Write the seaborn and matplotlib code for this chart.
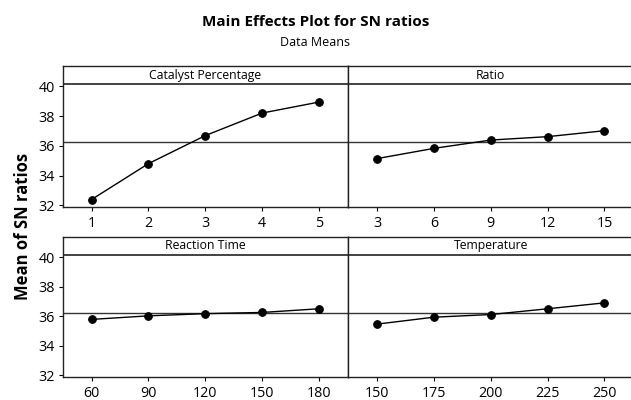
import matplotlib
matplotlib.use("Agg")
import matplotlib.pyplot as plt
import seaborn as sns
import pandas as pd

# ---- data ----
factors = ["Catalyst Percentage", "Ratio", "Reaction Time", "Temperature"]
catalyst_levels = [1, 2, 3, 4, 5]
catalyst_sn = [32.38, 34.80, 36.69, 38.21, 38.95]
ratio_levels = [3, 6, 9, 12, 15]
ratio_sn = [35.14, 35.83, 36.39, 36.62, 37.02]
time_levels = [60, 90, 120, 150, 180]
time_sn = [35.78, 36.02, 36.17, 36.25, 36.50]
temp_levels = [150, 175, 200, 225, 250]
temp_sn = [35.46, 35.93, 36.11, 36.50, 36.90]
grand_mean = 36.24
y_ticks = [32, 34, 36, 38, 40]

levels = [catalyst_levels, ratio_levels, time_levels, temp_levels]
values = [catalyst_sn, ratio_sn, time_sn, temp_sn]

sns.set_style("white")
plt.rcParams["font.family"] = ["Open Sans", "DejaVu Sans"]
plt.rcParams["text.color"] = "black"

W, H = 631, 400
fig = plt.figure(figsize=(W / 100, H / 100), dpi=100)

# axes boxes in pixels: (left, top, right, bottom)
col_x = [(62.5, 348.0), (348.0, 633.5)]
row_y = [(66.0, 206.7), (236.7, 376.7)]

ylo, yhi = 31.9, 41.38
strip_y = 40.14

for i, (name, lv, vals) in enumerate(zip(factors, levels, values)):
    r, c = divmod(i, 2)
    x0, x1 = col_x[c]
    yt, yb = row_y[r]
    ax = fig.add_axes([x0 / W, 1 - yb / H, (x1 - x0) / W, (yb - yt) / H])
    df = pd.DataFrame({"level": [str(v) for v in lv], "sn": vals})
    sns.pointplot(data=df, x="level", y="sn", order=[str(v) for v in lv],
                  color="black", markers="o", markersize=5.5,
                  linewidth=1.0, ax=ax)
    ax.axhline(grand_mean, color="#333333", lw=1.0, zorder=1)
    ax.axhline(strip_y, color="#222222", lw=1.2, zorder=1)
    ax.text(0.5, (strip_y + yhi) / 2, name, transform=ax.get_yaxis_transform(),
            ha="center", va="center", fontsize=8.8, color="black")
    ax.set_xlim(-0.51, 4.51)
    ax.set_ylim(ylo, yhi)
    ax.set_xlabel("")
    ax.set_ylabel("")
    for s in ax.spines.values():
        s.set_color("#222222")
        s.set_linewidth(1.0)
    ax.tick_params(axis="x", direction="out", length=3, width=0.8,
                   labelsize=10.3, pad=4, colors="black", bottom=True)
    ax.set_yticks(y_ticks)
    if c == 0:
        ax.tick_params(axis="y", direction="out", length=3, width=0.8,
                       labelsize=10.3, pad=2.5, colors="black", left=True)
    else:
        ax.tick_params(axis="y", left=False, labelleft=False)

fig.text(0.5, 1 - 22 / H, "Main Effects Plot for SN ratios", ha="center",
         va="center", fontsize=11, fontweight="bold", color="black")
fig.text(0.5, 1 - 42 / H, "Data Means", ha="center", va="center",
         fontsize=9, color="black")
fig.text(23 / W, 1 - 226 / H, "Mean of SN ratios", rotation=90, ha="center",
         va="center", fontsize=12, fontweight="bold", color="black")

fig.savefig("out.png", dpi=100)
